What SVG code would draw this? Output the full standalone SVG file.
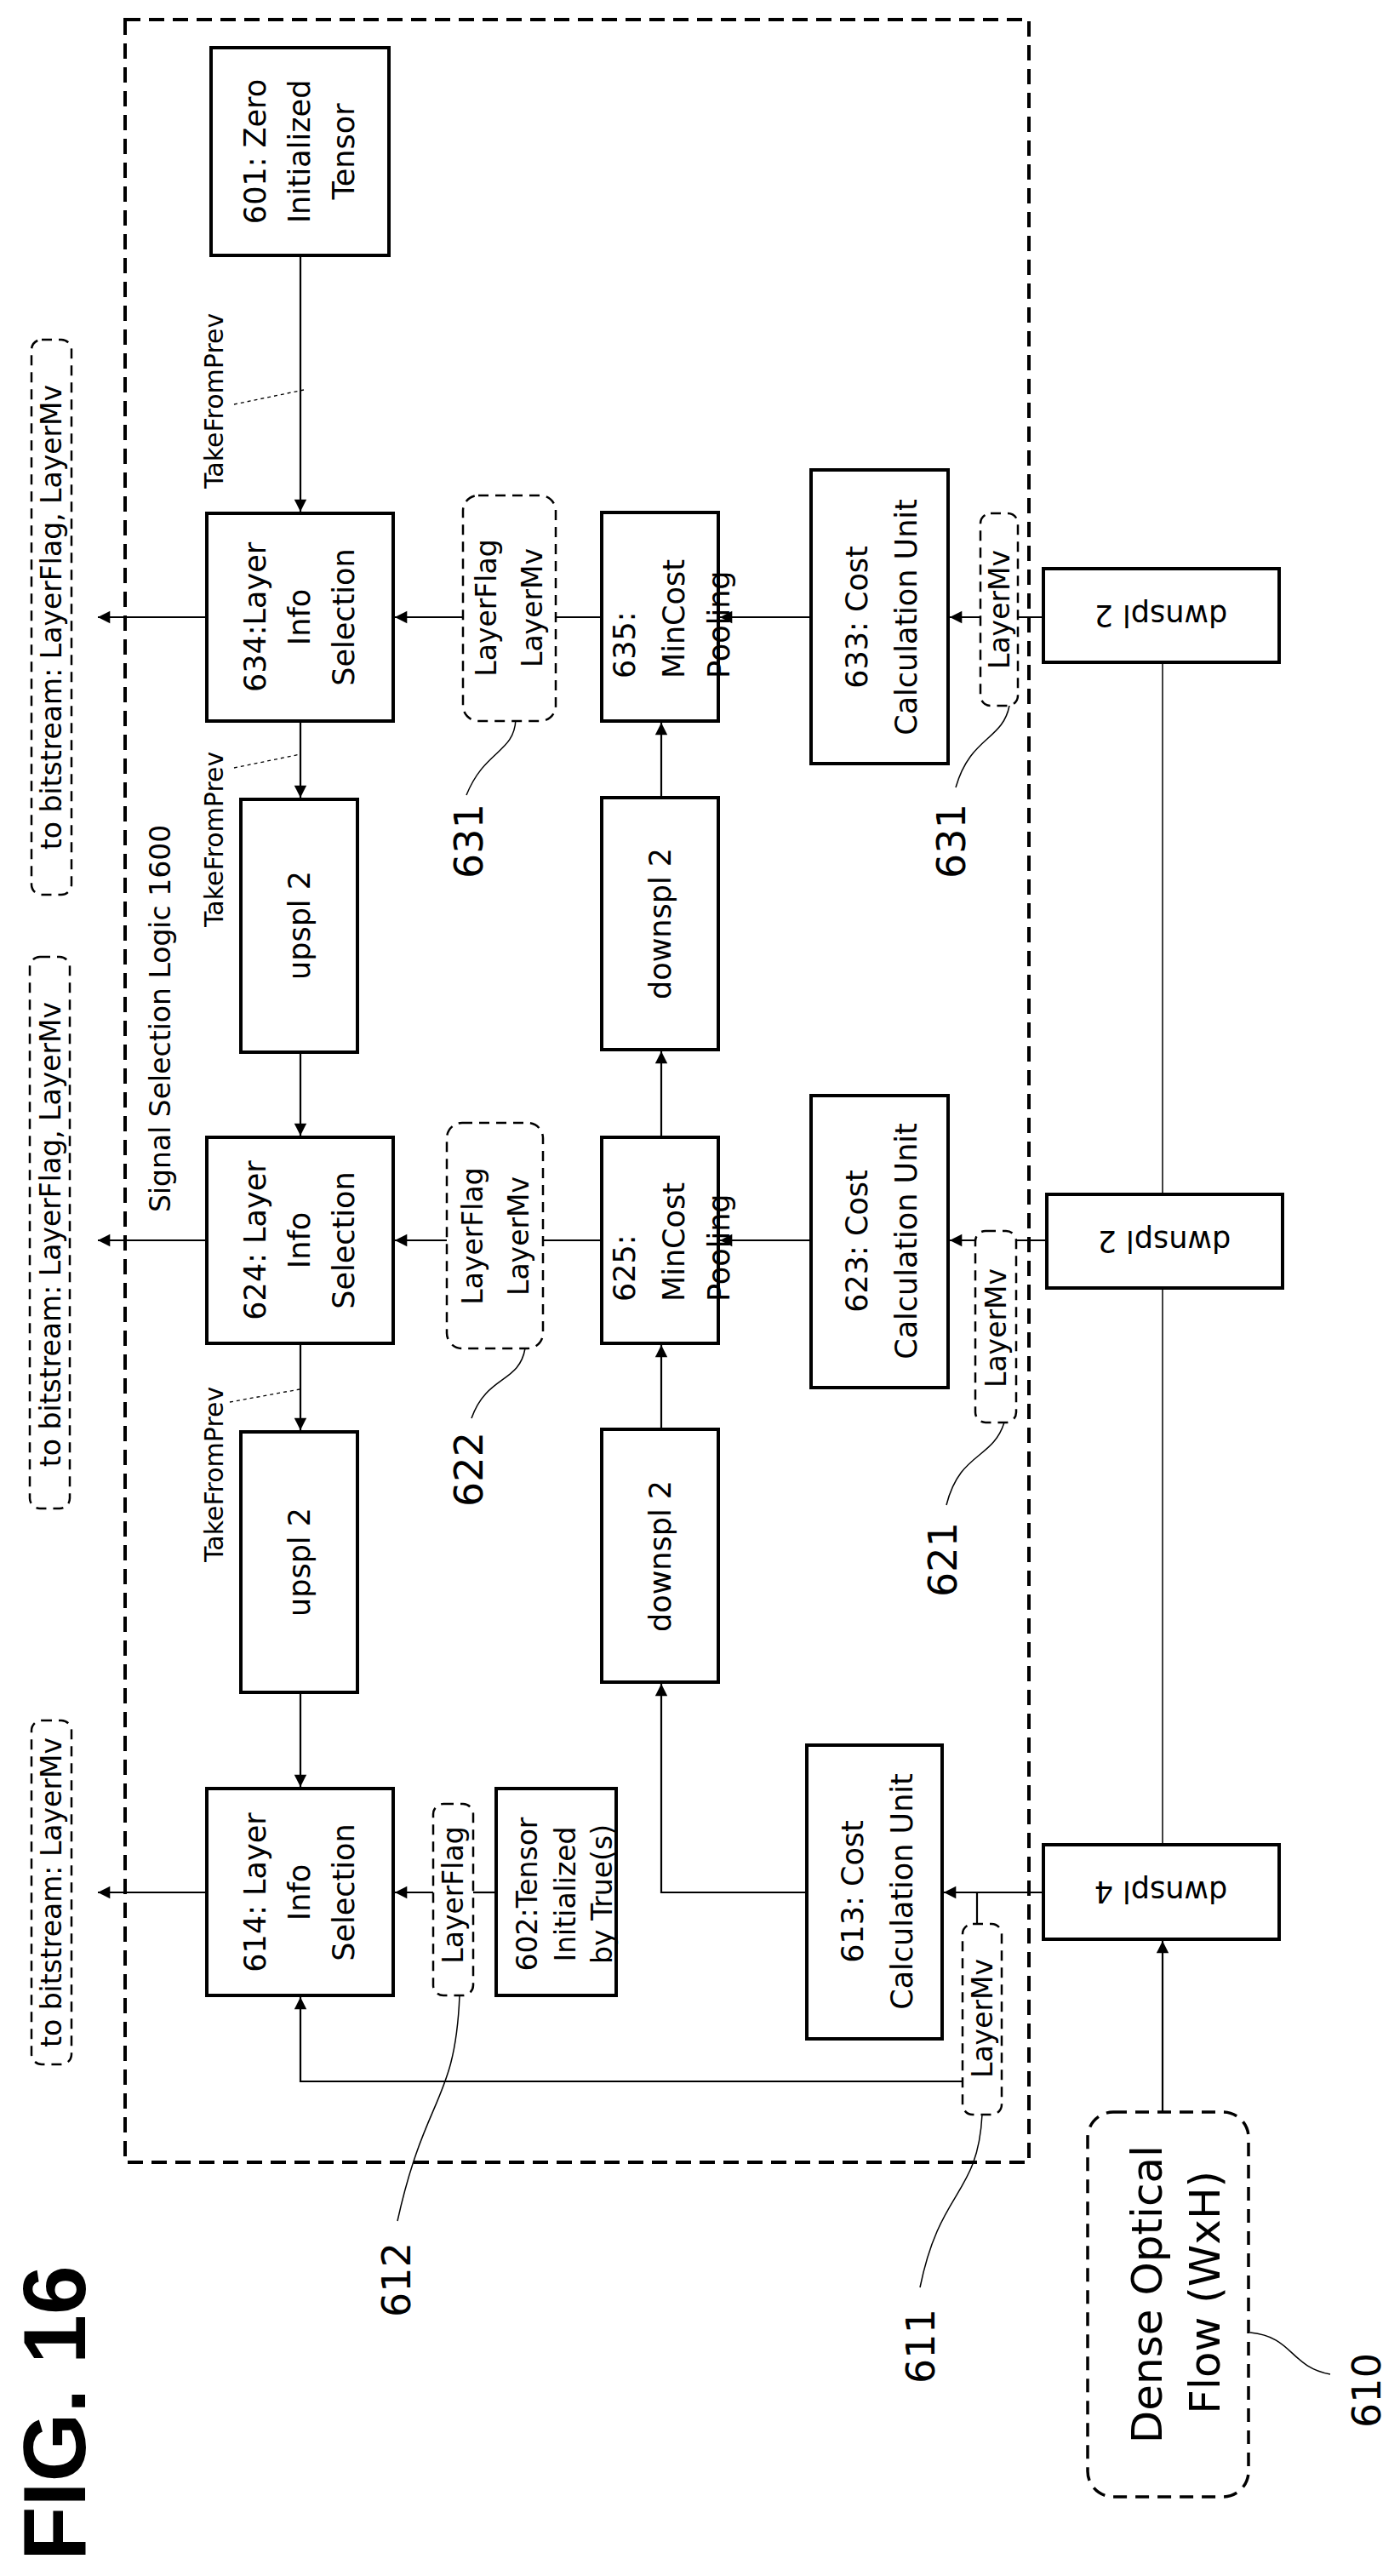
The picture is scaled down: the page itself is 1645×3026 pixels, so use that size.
<svg xmlns="http://www.w3.org/2000/svg" width="1645" height="3026" viewBox="0 0 1645 3026">
<style>
text{font-family:"DejaVu Sans","Liberation Sans",sans-serif;fill:#000}
.box{fill:#fff;stroke:#000;stroke-width:4}
.dbox{fill:#fff;stroke:#000;stroke-width:2.5;stroke-dasharray:12 8}
.frame{fill:none;stroke:#000;stroke-width:4;stroke-dasharray:18 10}
.c{fill:none;stroke:#000;stroke-width:2.2}
.thin{fill:none;stroke:#000;stroke-width:1.5}
.dot{fill:none;stroke:#000;stroke-width:1.3;stroke-dasharray:4 4}
.t40{font-size:35px}
.t35{font-size:33px}
.lbl{font-size:46px}
.m{text-anchor:middle;dominant-baseline:central}
</style>
<defs>
<marker id="a" viewBox="0 0 10 10" refX="10" refY="5" markerWidth="8" markerHeight="8" markerUnits="userSpaceOnUse" orient="auto" style="overflow:visible">
<path d="M0,0 L10,5 L0,10 z" fill="#000" transform="scale(1.8) translate(-4.4,-2.2)"/>
</marker>
</defs>
<rect class="frame" x="147" y="23" width="1062" height="2517"/>
<g id="connectors">
<line class="c" x1="353" y1="300" x2="353" y2="601" marker-end="url(#a)"/>
<line class="dot" x1="275" y1="475" x2="357" y2="458"/>
<line class="c" x1="243" y1="725" x2="115" y2="725" marker-end="url(#a)"/>
<line class="c" x1="544" y1="725" x2="464" y2="725" marker-end="url(#a)"/>
<line class="c" x1="707" y1="725" x2="653" y2="725"/>
<line class="c" x1="953" y1="725" x2="846" y2="725" marker-end="url(#a)"/>
<line class="c" x1="1226" y1="725" x2="1116" y2="725" marker-end="url(#a)"/>
<line class="c" x1="353" y1="847" x2="353" y2="937" marker-end="url(#a)"/>
<line class="dot" x1="275" y1="902" x2="353" y2="886"/>
<line class="c" x1="353" y1="1236" x2="353" y2="1334" marker-end="url(#a)"/>
<line class="c" x1="243" y1="1457" x2="115" y2="1457" marker-end="url(#a)"/>
<line class="c" x1="525" y1="1457" x2="464" y2="1457" marker-end="url(#a)"/>
<line class="c" x1="707" y1="1457" x2="638" y2="1457"/>
<line class="c" x1="953" y1="1457" x2="846" y2="1457" marker-end="url(#a)"/>
<line class="c" x1="1230" y1="1457" x2="1116" y2="1457" marker-end="url(#a)"/>
<line class="c" x1="777" y1="1336" x2="777" y2="1235" marker-end="url(#a)"/>
<line class="c" x1="777" y1="937" x2="777" y2="849" marker-end="url(#a)"/>
<line class="c" x1="777" y1="1679" x2="777" y2="1580" marker-end="url(#a)"/>
<line class="c" x1="353" y1="1578" x2="353" y2="1680" marker-end="url(#a)"/>
<line class="dot" x1="270" y1="1647" x2="352" y2="1632"/>
<line class="c" x1="353" y1="1988" x2="353" y2="2099" marker-end="url(#a)"/>
<line class="c" x1="243" y1="2223" x2="115" y2="2223" marker-end="url(#a)"/>
<line class="c" x1="509" y1="2223" x2="464" y2="2223" marker-end="url(#a)"/>
<line class="c" x1="583" y1="2223" x2="556" y2="2223"/>
<polyline class="c" points="948,2223 777,2223 777,1978" marker-end="url(#a)"/>
<line class="c" x1="1226" y1="2223" x2="1109" y2="2223" marker-end="url(#a)"/>
<line class="c" x1="1148" y1="2223" x2="1148" y2="2260"/>
<polyline class="c" points="1131,2445 353,2445 353,2346" marker-end="url(#a)"/>
<line class="c" x1="1366" y1="2481" x2="1366" y2="2280" marker-end="url(#a)"/>
<line class="thin" x1="1366" y1="2167" x2="1366" y2="1513"/>
<line class="thin" x1="1366" y1="1403" x2="1366" y2="778"/>
<path class="thin" d="M606,845 C604,885 570,880 548,934"/>
<path class="thin" d="M1186,829 C1178,870 1140,865 1123,925"/>
<path class="thin" d="M617,1584 C610,1625 572,1615 554,1666"/>
<path class="thin" d="M1180,1671 C1166,1715 1128,1705 1112,1768"/>
<path class="thin" d="M540,2344 C535,2470 500,2460 467,2609"/>
<path class="thin" d="M1154,2484 C1149,2580 1105,2570 1081,2687"/>
<path class="thin" d="M1469,2740 C1520,2745 1515,2780 1563,2789"/>
</g>
<g id="n601"><rect class="box" x="248" y="56" width="209" height="244"/>
<text class="t40 m" transform="translate(352,178) rotate(-90)"><tspan x="0" y="-52">601: Zero</tspan><tspan x="0" y="0">Initialized</tspan><tspan x="0" y="52">Tensor</tspan></text></g>
<g id="n634"><rect class="box" x="243" y="603" width="219" height="244"/>
<text class="t40 m" transform="translate(352,725) rotate(-90)"><tspan x="0" y="-52">634:Layer</tspan><tspan x="0" y="0">Info</tspan><tspan x="0" y="52">Selection</tspan></text></g>
<g id="n631a"><rect class="dbox" x="544" y="582" width="109" height="265" rx="18"/>
<text class="t35 m" transform="translate(598,714) rotate(-90)"><tspan x="0" y="-27">LayerFlag</tspan><tspan x="0" y="27">LayerMv</tspan></text></g>
<g id="n635"><rect class="box" x="707" y="602" width="137" height="245"/>
<text class="t40" style="dominant-baseline:central" transform="translate(792,797) rotate(-90)"><tspan x="0" y="-58">635:</tspan><tspan x="0" y="0">MinCost</tspan><tspan x="0" y="53">Pooling</tspan></text></g>
<g id="n633"><rect class="box" x="953" y="552" width="161" height="345"/>
<text class="t40 m" transform="translate(1036,725) rotate(-90)"><tspan x="0" y="-29">633: Cost</tspan><tspan x="0" y="29">Calculation Unit</tspan></text></g>
<g id="n631b"><rect class="dbox" x="1152" y="603" width="44" height="226" rx="12"/>
<text class="t35 m" transform="translate(1174,716) rotate(-90)">LayerMv</text></g>
<g id="n_dwnspl2a"><rect class="box" x="1226" y="668" width="277" height="110"/>
<text class="t40 m" transform="translate(1364,723) rotate(180)">dwnspl 2</text></g>
<g id="n_upspl2a"><rect class="box" x="283" y="939" width="137" height="297"/>
<text class="t40 m" transform="translate(352,1087) rotate(-90)">upspl 2</text></g>
<g id="n_downspl2a"><rect class="box" x="707" y="937" width="137" height="296"/>
<text class="t40 m" transform="translate(776,1085) rotate(-90)">downspl 2</text></g>
<g id="n624"><rect class="box" x="243" y="1336" width="219" height="242"/>
<text class="t40 m" transform="translate(352,1457) rotate(-90)"><tspan x="0" y="-52">624: Layer</tspan><tspan x="0" y="0">Info</tspan><tspan x="0" y="52">Selection</tspan></text></g>
<g id="n622"><rect class="dbox" x="525" y="1319" width="113" height="265" rx="18"/>
<text class="t35 m" transform="translate(582,1452) rotate(-90)"><tspan x="0" y="-27">LayerFlag</tspan><tspan x="0" y="27">LayerMv</tspan></text></g>
<g id="n625"><rect class="box" x="707" y="1336" width="137" height="242"/>
<text class="t40" style="dominant-baseline:central" transform="translate(792,1529) rotate(-90)"><tspan x="0" y="-58">625:</tspan><tspan x="0" y="0">MinCost</tspan><tspan x="0" y="53">Pooling</tspan></text></g>
<g id="n623"><rect class="box" x="953" y="1287" width="161" height="343"/>
<text class="t40 m" transform="translate(1036,1458) rotate(-90)"><tspan x="0" y="-29">623: Cost</tspan><tspan x="0" y="29">Calculation Unit</tspan></text></g>
<g id="n621"><rect class="dbox" x="1146" y="1446" width="48" height="225" rx="12"/>
<text class="t35 m" transform="translate(1170,1560) rotate(-90)">LayerMv</text></g>
<g id="n_dwnspl2b"><rect class="box" x="1230" y="1403" width="277" height="110"/>
<text class="t40 m" transform="translate(1368,1458) rotate(180)">dwnspl 2</text></g>
<g id="n_upspl2b"><rect class="box" x="283" y="1682" width="137" height="306"/>
<text class="t40 m" transform="translate(352,1835) rotate(-90)">upspl 2</text></g>
<g id="n_downspl2b"><rect class="box" x="707" y="1679" width="137" height="297"/>
<text class="t40 m" transform="translate(776,1828) rotate(-90)">downspl 2</text></g>
<g id="n614"><rect class="box" x="243" y="2101" width="219" height="243"/>
<text class="t40 m" transform="translate(352,2223) rotate(-90)"><tspan x="0" y="-52">614: Layer</tspan><tspan x="0" y="0">Info</tspan><tspan x="0" y="52">Selection</tspan></text></g>
<g id="n612"><rect class="dbox" x="509" y="2119" width="47" height="225" rx="12"/>
<text class="t35 m" transform="translate(532,2226) rotate(-90)">LayerFlag</text></g>
<g id="n602"><rect class="box" x="583" y="2101" width="141" height="243"/>
<text class="t35 m" transform="translate(664,2225) rotate(-90)"><tspan x="0" y="-45">602:Tensor</tspan><tspan x="0" y="0">Initialized</tspan><tspan x="0" y="43">by True(s)</tspan></text></g>
<g id="n613"><rect class="box" x="948" y="2050" width="159" height="345"/>
<text class="t40 m" transform="translate(1031,2222) rotate(-90)"><tspan x="0" y="-29">613: Cost</tspan><tspan x="0" y="29">Calculation Unit</tspan></text></g>
<g id="n611"><rect class="dbox" x="1131" y="2260" width="46" height="224" rx="12"/>
<text class="t35 m" transform="translate(1154,2371) rotate(-90)">LayerMv</text></g>
<g id="n_dwnspl4"><rect class="box" x="1226" y="2167" width="277" height="111"/>
<text class="t40 m" transform="translate(1364,2222) rotate(180)">dwnspl 4</text></g>
<g id="n610"><rect class="dbox" x="1278" y="2481" width="189" height="452" rx="30" style="stroke-width:3.5;stroke-dasharray:16 10"/>
<text style="font-size:50px;text-anchor:end;dominant-baseline:central" transform="translate(1382,2520) rotate(-90)"><tspan x="0" y="-34">Dense Optical</tspan><tspan x="-30" y="34">Flow (WxH)</tspan></text></g>
<g id="bitstream1"><rect class="dbox" x="37" y="399" width="47" height="652" rx="12"/>
<text class="t35 m" transform="translate(60,725) rotate(-90)">to bitstream: LayerFlag, LayerMv</text></g>
<g id="bitstream2"><rect class="dbox" x="35" y="1124" width="47" height="648" rx="12"/>
<text class="t35 m" transform="translate(59,1450) rotate(-90)">to bitstream: LayerFlag, LayerMv</text></g>
<g id="bitstream3"><rect class="dbox" x="37" y="2021" width="47" height="404" rx="12"/>
<text class="t35 m" transform="translate(60,2223) rotate(-90)">to bitstream: LayerMv</text></g>
<g id="labels">
<text transform="translate(262,574) rotate(-90)" style="font-size:30px">TakeFromPrev</text>
<text transform="translate(262,1089) rotate(-90)" style="font-size:30px">TakeFromPrev</text>
<text transform="translate(262,1835) rotate(-90)" style="font-size:30px">TakeFromPrev</text>
<text transform="translate(200,1424) rotate(-90)" style="font-size:33px">Signal Selection Logic 1600</text>
<text class="lbl m" transform="translate(551,988) rotate(-90)">631</text>
<text class="lbl m" transform="translate(1118,988) rotate(-90)">631</text>
<text class="lbl m" transform="translate(551,1726) rotate(-90)">622</text>
<text class="lbl m" transform="translate(1108,1832) rotate(-90)">621</text>
<text class="lbl m" transform="translate(466,2678) rotate(-90)">612</text>
<text class="lbl m" transform="translate(1082,2756) rotate(-90)">611</text>
<text class="lbl m" transform="translate(1606,2808) rotate(-90)">610</text>
<text transform="translate(100,3008) rotate(-90)" style="font-family:'Liberation Sans',Arial,sans-serif;font-size:104px;font-weight:bold">FIG. 16</text>
</g>
</svg>
